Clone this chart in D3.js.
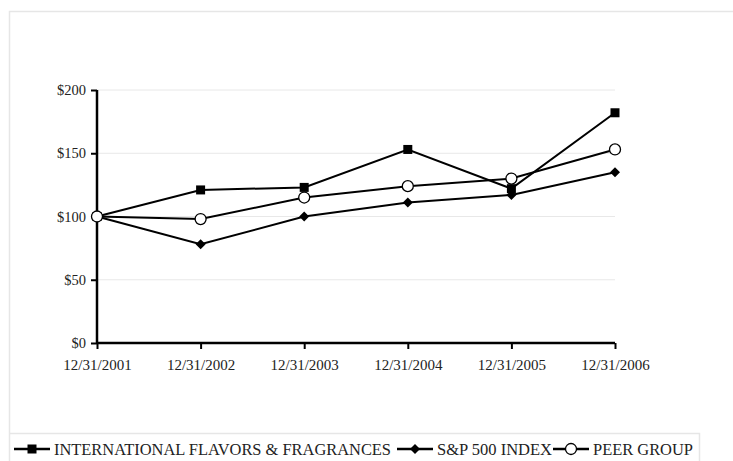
<!DOCTYPE html>
<html>
<head>
<meta charset="utf-8">
<script src="https://cdn.jsdelivr.net/npm/d3@7"></script>
<style>
  body { margin: 0; background: #fff; }
  text { font-family: "Liberation Serif", "Times New Roman", serif; fill: #222; }
</style>
</head>
<body>
<svg id="chart" width="733" height="461"></svg>
<script>
var years = ["12/31/2001", "12/31/2002", "12/31/2003", "12/31/2004", "12/31/2005", "12/31/2006"];
var iffValues = [100, 121, 123, 153, 122, 182];
var spValues = [100, 78, 100, 111, 117, 135];
var peerValues = [100, 98, 115, 124, 130, 153];
var yTicks = [0, 50, 100, 150, 200];

var series = [
  { name: "INTERNATIONAL FLAVORS & FRAGRANCES", values: iffValues, marker: "square" },
  { name: "S&P 500 INDEX", values: spValues, marker: "diamond" },
  { name: "PEER GROUP", values: peerValues, marker: "circle" }
];

var svg = d3.select("#chart");

// outer frame
svg.append("path")
  .attr("d", "M9.5,461 V11.5 H733")
  .attr("fill", "none").attr("stroke", "#e6e6e6").attr("stroke-width", 1.5);

var plotLeft = 97, plotRight = 615, plotTop = 90, plotBottom = 343;

var x = d3.scalePoint().domain(years).range([plotLeft, plotRight]);
var y = d3.scaleLinear().domain([0, 200]).range([plotBottom, plotTop]);

// gridlines
svg.append("g").selectAll("line")
  .data(yTicks.filter(function(d) { return d > 0; }))
  .enter().append("line")
  .attr("x1", plotLeft).attr("x2", plotRight)
  .attr("y1", function(d) { return y(d); })
  .attr("y2", function(d) { return y(d); })
  .attr("stroke", "#e8e8e8").attr("stroke-width", 1);

// y axis
var yAxis = svg.append("g")
  .attr("transform", "translate(" + plotLeft + ",0)")
  .call(d3.axisLeft(y).tickValues(yTicks).tickSize(6).tickPadding(5)
    .tickFormat(function(d) { return "$" + d; }));
yAxis.select(".domain").attr("stroke", "#000").attr("stroke-width", 2.5).attr("d", "M0," + plotTop + "V" + plotBottom);
yAxis.selectAll(".tick line").attr("stroke", "#000").attr("stroke-width", 2);
yAxis.selectAll("text").style("font-size", "14.5px").attr("fill", "#222");

// x axis
var xAxis = svg.append("g")
  .attr("transform", "translate(0," + plotBottom + ")")
  .call(d3.axisBottom(x).tickSize(6).tickPadding(10));
xAxis.select(".domain").attr("stroke", "#000").attr("stroke-width", 2.5).attr("d", "M" + plotLeft + ",0H" + plotRight);
xAxis.selectAll(".tick line").attr("stroke", "#000").attr("stroke-width", 2);
xAxis.selectAll("text").style("font-size", "15px").attr("fill", "#222");

var line = d3.line()
  .x(function(d, i) { return x(years[i]); })
  .y(function(d) { return y(d); });

function drawMarker(g, type, cx, cy) {
  if (type === "square") {
    g.append("rect").attr("x", cx - 4.5).attr("y", cy - 4.5).attr("width", 9).attr("height", 9).attr("fill", "#000");
  } else if (type === "diamond") {
    g.append("path").attr("d", "M" + cx + "," + (cy - 5) + "L" + (cx + 5) + "," + cy + "L" + cx + "," + (cy + 5) + "L" + (cx - 5) + "," + cy + "Z").attr("fill", "#000");
  } else {
    g.append("circle").attr("cx", cx).attr("cy", cy).attr("r", 5.5).attr("fill", "#fff").attr("stroke", "#000").attr("stroke-width", 1.3);
  }
}

// lines first, then markers on top
series.forEach(function(s) {
  svg.append("path").datum(s.values)
    .attr("d", line).attr("fill", "none").attr("stroke", "#000").attr("stroke-width", 2);
});
series.forEach(function(s) {
  var g = svg.append("g");
  s.values.forEach(function(v, i) { drawMarker(g, s.marker, x(years[i]), y(v)); });
});

// legend
svg.append("path")
  .attr("d", "M9.5,433.5 H699.5 V461")
  .attr("fill", "none").attr("stroke", "#e6e6e6").attr("stroke-width", 1.5);

var legendX = [14, 397, 553];
var legendTextW = [337, 115, 100];
var legend = svg.append("g");
series.forEach(function(s, i) {
  var lx = legendX[i], ly = 449;
  legend.append("line").attr("x1", lx).attr("x2", lx + 36).attr("y1", ly).attr("y2", ly)
    .attr("stroke", "#000").attr("stroke-width", 2.5);
  drawMarker(legend, s.marker, lx + 18, ly);
  legend.append("text").attr("x", lx + 40).attr("y", ly + 6)
    .attr("textLength", legendTextW[i]).attr("lengthAdjust", "spacingAndGlyphs")
    .style("font-size", "16px").text(s.name);
});
</script>
</body>
</html>
